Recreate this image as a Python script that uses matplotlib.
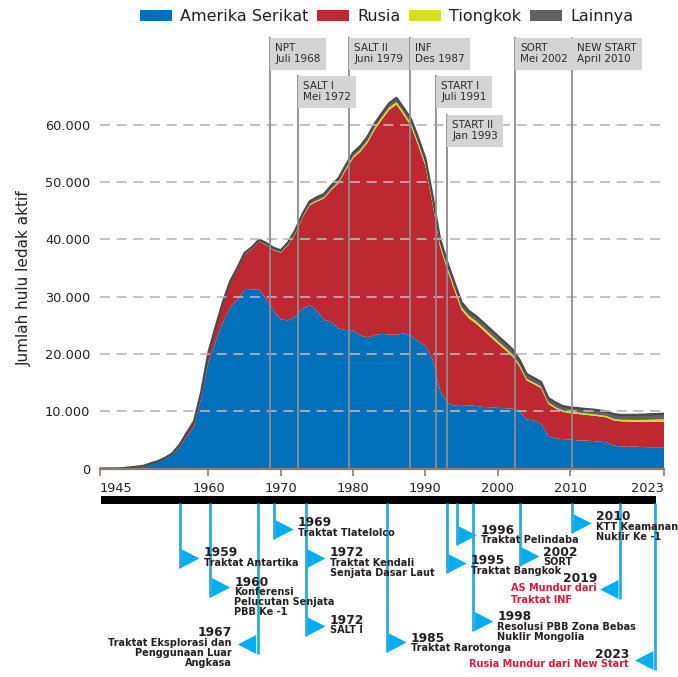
import matplotlib
matplotlib.use("Agg")
import matplotlib.pyplot as plt
import matplotlib.transforms as mtransforms
from matplotlib.patches import Patch, Polygon, Rectangle
from matplotlib.ticker import FuncFormatter

FONT = ["DejaVu Sans"]
plt.rcParams["font.family"] = FONT

# ---------------- data ----------------
years = list(range(1945, 2024))
us = [2, 9, 13, 50, 170,
      299, 438, 841, 1169, 1703,
      2422, 3692, 5543, 7345, 12298,
      18638, 22229, 25540, 28133, 29463,
      31139, 31175, 31255, 29561, 27552,
      26008, 25830, 26516, 27835, 28537,
      27519, 25914, 25542, 24418, 24138,
      24104, 23208, 22886, 23305, 23459,
      23368, 23317, 23575, 23205, 22217,
      21392, 19008, 13708, 11511, 10979,
      10904, 11011, 10903, 10732, 10685,
      10577, 10526, 10457, 10027, 8570,
      8360, 7853, 5709, 5273, 5113,
      5066, 4897, 4881, 4804, 4717,
      4571, 4018, 3822, 3785, 3805,
      3750, 3708, 3708, 3708]
russia = [0, 0, 0, 0, 1,
          5, 25, 50, 120, 150,
          200, 426, 660, 869, 1060,
          1605, 2471, 3322, 4238, 5221,
          6129, 7089, 8339, 9399, 10538,
          11643, 13092, 14478, 15915, 17385,
          19055, 21205, 23044, 25393, 27935,
          30062, 32049, 33952, 35804, 37431,
          39197, 40159, 38107, 36538, 34203,
          31378, 27142, 25142, 23259, 20196,
          16776, 15179, 14387, 13388, 12275,
          11253, 10194, 9163, 7793, 6790,
          6360, 6187, 5551, 5197, 4767,
          4579, 4643, 4489, 4456, 4383,
          4364, 4392, 4408, 4415, 4365,
          4380, 4452, 4432, 4462]
china = [0, 0, 0, 0, 0,
         0, 0, 0, 0, 0,
         0, 0, 0, 0, 0,
         0, 0, 0, 0, 1,
         5, 20, 25, 35, 50,
         75, 100, 130, 150, 170,
         185, 190, 200, 220, 235,
         280, 330, 360, 380, 415,
         430, 430, 430, 430, 430,
         430, 430, 430, 430, 435,
         430, 430, 430, 430, 430,
         400, 380, 350, 320, 290,
         260, 240, 240, 240, 240,
         240, 240, 250, 250, 250,
         250, 260, 270, 280, 290,
         350, 350, 410, 410]
others = [0, 0, 0, 0, 0,
          0, 0, 0, 1, 5,
          10, 15, 20, 22, 25,
          30, 50, 205, 280, 314,
          342, 306, 306, 326, 358,
          330, 390, 420, 460, 500,
          560, 580, 600, 610, 620,
          640, 660, 680, 690, 700,
          720, 750, 760, 800, 850,
          900, 920, 920, 900, 890,
          890, 880, 880, 900, 910,
          920, 900, 880, 860, 850,
          820, 820, 800, 790, 780,
          765, 770, 780, 790, 800,
          815, 830, 850, 870, 890,
          920, 940, 950, 970]
series_names = ["Amerika Serikat", "Rusia", "Tiongkok", "Lainnya"]
series_colors = ["#0070ba", "#be2830", "#d7df23", "#616161"]

x_ticks = [1945, 1960, 1970, 1980, 1990, 2000, 2010, 2023]
y_ticks = [0, 10000, 20000, 30000, 40000, 50000, 60000]

treaty_names = ["NPT", "SALT I", "SALT II", "INF", "START I", "START II", "SORT", "NEW START"]
treaty_dates = ["Juli 1968", "Mei 1972", "Juni 1979", "Des 1987", "Juli 1991", "Jan 1993", "Mei 2002", "April 2010"]
treaty_years = [1968.5, 1972.35, 1979.45, 1987.9, 1991.5, 1993.0, 2002.35, 2010.25]

event_years = ["1959", "1960", "1967", "1969", "1972", "1972", "1985",
               "1995", "1996", "1998", "2002", "2010", "2019", "2023"]
event_texts = ["Traktat Antartika",
               "Konferensi\nPelucutan Senjata\nPBB Ke -1",
               "Traktat Eksplorasi dan\nPenggunaan Luar\nAngkasa",
               "Traktat Tlatelolco",
               "Traktat Kendali\nSenjata Dasar Laut",
               "SALT I",
               "Traktat Rarotonga",
               "Traktat Bangkok",
               "Traktat Pelindaba",
               "Resolusi PBB Zona Bebas\nNuklir Mongolia",
               "SORT",
               "KTT Keamanan\nNuklir Ke -1",
               "AS Mundur dari\nTraktat INF",
               "Rusia Mundur dari New Start"]
event_withdrawal = [False] * 12 + [True, True]

# ---------------- layout (pixels) ----------------
W, H = 678, 677
AX_L, AX_R, AX_T, AX_B = 100, 664, 38.5, 468.5
treaty_row = [0, 1, 0, 0, 1, 2, 0, 0]
row_top_px = [38, 76, 115]
ev_x = [179.5, 210.3, 257.7, 273.7, 305.5, 305.5, 386.7,
        446.7, 456.7, 473.3, 519.5, 571.7, 620.0, 655.0]
ev_bottom = [568, 597, 654, 539, 568, 636, 652, 573, 545, 631, 566, 533, 599, 670]
ev_dir = [1, 1, -1, 1, 1, 1, 1, 1, 1, 1, 1, 1, -1, -1]
ev_dy = [4, 4, -2, 3, 4, 3, 5, 7, 4, 5, 5, 3, -2, 3]
ev_gap = [4, 4, 6, 4, 4, 4, 4, 4, 4, 4, 4, 4, 3, 6]

BLUE_L = "#29abe2"
TRI_C = "#00aeef"
DARK = "#231f20"
RED_T = "#e0173a"

fig = plt.figure(figsize=(W / 100, H / 100), dpi=100)
ax = fig.add_axes([AX_L / W, 1 - AX_B / H, (AX_R - AX_L) / W, (AX_B - AX_T) / H])

ax.stackplot(years, us, russia, china, others, colors=series_colors,
             labels=series_names, linewidth=0, zorder=1)
total = [a + b + c + d for a, b, c, d in zip(us, russia, china, others)]
ax.plot(years, total, color="#4a4a4a", lw=1.6, zorder=1.5)

ax.set_xlim(1945, 2023)
ax.set_ylim(0, 75000)

ax.set_yticks(y_ticks)
ax.yaxis.set_major_formatter(FuncFormatter(lambda v, p: f"{v:,.0f}".replace(",", ".")))
for v in y_ticks[1:]:
    ax.axhline(v, color="#b8b8b8", lw=1.2, ls=(0, (6, 4)), zorder=2.6)

for s in ["top", "right", "left"]:
    ax.spines[s].set_visible(False)
ax.spines["bottom"].set_color("#8a7d74")
ax.spines["bottom"].set_linewidth(1.6)
ax.spines["bottom"].set_zorder(3)
ax.tick_params(axis="y", length=0, pad=7, labelsize=9.3, labelcolor=DARK)
ax.tick_params(axis="x", length=5, width=1.2, color="#8a7d74", pad=5,
               labelsize=9.3, labelcolor=DARK)
ax.set_xticks(x_ticks)
ax.set_xticklabels([str(t) for t in x_ticks])
xl = ax.get_xticklabels()
xl[0].set_ha("left")
xl[-1].set_ha("right")

blend = mtransforms.blended_transform_factory(ax.transData, ax.transAxes)
for name, date, yr, row in zip(treaty_names, treaty_dates, treaty_years, treaty_row):
    top = 1 - (row_top_px[row] - AX_T) / (AX_B - AX_T)
    ax.plot([yr, yr], [0, top], transform=blend, color="#8c8c8c", lw=1.3,
            zorder=2.7, clip_on=False)
    pad = 0.5
    fs = 7.5
    ax.annotate(f"{name}\n{date}", xy=(yr, top), xycoords=blend,
                xytext=(pad * fs, -pad * fs), textcoords="offset points",
                ha="left", va="top", fontsize=fs, color="#2b2b2b",
                linespacing=1.15, zorder=4,
                bbox=dict(boxstyle=f"square,pad={pad}", fc="#d4d4d4", ec="none"),
                annotation_clip=False)

handles = [Patch(facecolor=c, edgecolor="none") for c in series_colors]
fig.legend(handles, series_names, loc="upper left",
           bbox_to_anchor=(140 / W, 1 - 9 / H), ncol=4, frameon=False,
           fontsize=11.5, handlelength=2.0, handleheight=0.75, handletextpad=0.5,
           columnspacing=0.56, borderpad=0, borderaxespad=0, labelcolor=DARK)

fig.text(24 / W, 1 - 278 / H, "Jumlah hulu ledak aktif", rotation=90,
         ha="center", va="center", fontsize=11, color=DARK)

# ---------------- timeline ----------------
tl = fig.add_axes([0, 0, 1, 1])
tl.set_xlim(0, W)
tl.set_ylim(H, 0)
tl.axis("off")
tl.patch.set_visible(False)

tl.add_patch(Rectangle((101, 495.5), 555, 8, color="black", lw=0))

line_ends = {}
for x, b in zip(ev_x, ev_bottom):
    line_ends[x] = max(line_ends.get(x, 0), b)
for x, b in line_ends.items():
    tl.plot([x, x], [503, b], color=BLUE_L, lw=2, solid_capstyle="butt")

TW, TH = 18.5, 19
for yr, txt, wd, x, b, d, dy, gap in zip(event_years, event_texts, event_withdrawal,
                                        ev_x, ev_bottom, ev_dir, ev_dy, ev_gap):
    top = b - TH
    if d > 0:
        x0 = x + 1.5
        tri = [(x0, top), (x0, b), (x0 + TW, top + TH / 2)]
        tx = x0 + TW + gap
        ha = "left"
        ma = "left"
    else:
        x0 = x - 1.5
        tri = [(x0, top), (x0, b), (x0 - TW, top + TH / 2)]
        tx = x0 - TW - gap
        ha = "right"
        ma = "left" if wd else "right"
    tl.add_patch(Polygon(tri, closed=True, color=TRI_C, lw=0))
    ty = top + dy
    tl.text(tx, ty, yr, ha=ha, va="center", fontsize=8.8, fontweight="bold",
            color=DARK)
    tl.text(tx, ty + 5, txt, ha=ha, va="top", multialignment=ma,
            fontsize=7, fontweight="bold", color=RED_T if wd else DARK,
            linespacing=1.0 if not wd else 1.2)

fig.savefig("out.png", dpi=100)
